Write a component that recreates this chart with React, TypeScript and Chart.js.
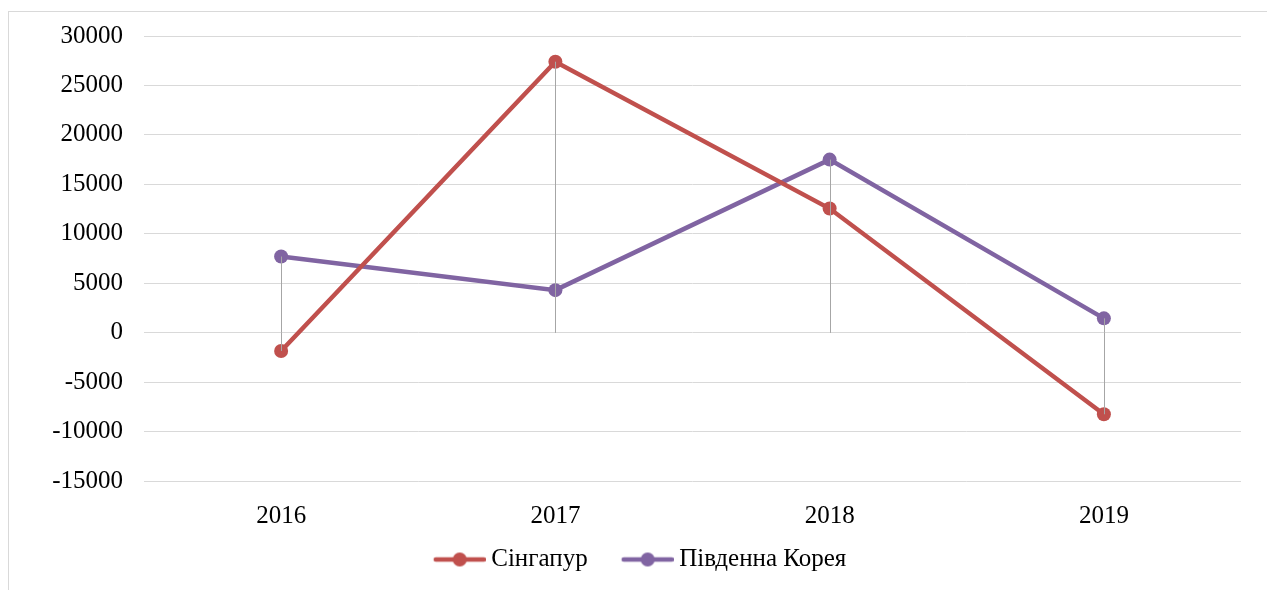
import React, { useEffect, useRef } from "react";
import { Chart, registerables } from "chart.js";

Chart.register(...registerables);

const categories = ["2016", "2017", "2018", "2019"];
const singaporeValues = [-1850, 27400, 12550, -8250];
const koreaValues = [7700, 4300, 17500, 1450];
const seriesNames = ["Сінгапур", "Південна Корея"];
const seriesColors = ["#C0504D", "#8064A2"];
const yMin = -15000;
const yMax = 30000;
const yStep = 5000;

const FONT = '"Liberation Serif", "Times New Roman", serif';
const FONT_SIZE = 25;

function makeLegendIcon(color: string): HTMLCanvasElement {
  const c = document.createElement("canvas");
  c.width = 83;
  c.height = 16;
  const ctx = c.getContext("2d")!;
  ctx.strokeStyle = color;
  ctx.lineWidth = 4.5;
  ctx.lineCap = "round";
  ctx.beginPath();
  ctx.moveTo(33, 8);
  ctx.lineTo(81, 8);
  ctx.stroke();
  ctx.fillStyle = color;
  ctx.beginPath();
  ctx.arc(57, 8, 7, 0, Math.PI * 2);
  ctx.fill();
  return c;
}

const dropLines = {
  id: "dropLines",
  afterDatasetsDraw(chart: any) {
    const ctx = chart.ctx;
    const y0 = chart.scales.y.getPixelForValue(0);
    ctx.save();
    ctx.strokeStyle = "#a6a6a6";
    ctx.lineWidth = 1;
    chart.data.datasets.forEach((_d: any, di: number) => {
      const meta = chart.getDatasetMeta(di);
      meta.data.forEach((pt: any) => {
        const x = Math.round(pt.x) + 0.5;
        ctx.beginPath();
        ctx.moveTo(x, pt.y);
        ctx.lineTo(x, y0);
        ctx.stroke();
      });
    });
    ctx.restore();
  },
};

export default function App() {
  const ref = useRef<HTMLCanvasElement | null>(null);
  useEffect(() => {
    if (!ref.current) return;
    const icons = seriesColors.map(makeLegendIcon);
    const series = [singaporeValues, koreaValues];
    const chart = new Chart(ref.current, {
      type: "line",
      data: {
        labels: categories,
        datasets: series.map((vals, i) => ({
          label: seriesNames[i],
          data: vals,
          borderColor: seriesColors[i],
          backgroundColor: seriesColors[i],
          pointBackgroundColor: seriesColors[i],
          pointBorderColor: seriesColors[i],
          borderWidth: 4.5,
          pointRadius: 7,
          pointBorderWidth: 0,
          pointStyle: "circle",
          tension: 0,
        })),
      },
      options: {
        responsive: false,
        animation: false,
        devicePixelRatio: 1,
        layout: { padding: { top: 24, right: 29, bottom: 8, left: 6 } },
        plugins: {
          tooltip: { enabled: false },
          legend: {
            position: "bottom",
            labels: {
              usePointStyle: true,
              pointStyleWidth: 69,
              padding: 10,
              color: "#000",
              font: { family: FONT, size: FONT_SIZE },
              generateLabels: (ch: any) =>
                ch.data.datasets.map((d: any, i: number) => ({
                  text: d.label,
                  fillStyle: seriesColors[i],
                  strokeStyle: seriesColors[i],
                  pointStyle: icons[i],
                  lineWidth: 0,
                  hidden: false,
                  datasetIndex: i,
                  fontColor: "#000",
                })),
            },
          },
        },
        scales: {
          x: {
            offset: true,
            grid: { display: false },
            border: { display: false },
            ticks: { color: "#000", font: { family: FONT, size: FONT_SIZE }, padding: 12 },
            afterFit: (s: any) => {
              s.height = 56;
            },
          },
          y: {
            min: yMin,
            max: yMax,
            grid: {
              color: "#d9d9d9",
              lineWidth: 1,
              drawTicks: true,
              tickLength: 21,
              tickColor: "rgba(0,0,0,0)",
            },
            border: { display: false },
            ticks: {
              stepSize: yStep,
              color: "#000",
              font: { family: FONT, size: FONT_SIZE },
              padding: 0,
              callback: (v: any) => String(v),
            },
            afterFit: (s: any) => {
              s.width = 129;
            },
          },
        },
      },
      plugins: [dropLines],
    });
    return () => chart.destroy();
  }, []);

  return (
    <div style={{ paddingTop: 3 }}>
      <div
        style={{
          width: 1261,
          height: 578,
          border: "1px solid #d9d9d9",
          background: "#fff",
        }}
      >
        <canvas ref={ref} width={1261} height={578} style={{ display: "block" }} />
      </div>
    </div>
  );
}
